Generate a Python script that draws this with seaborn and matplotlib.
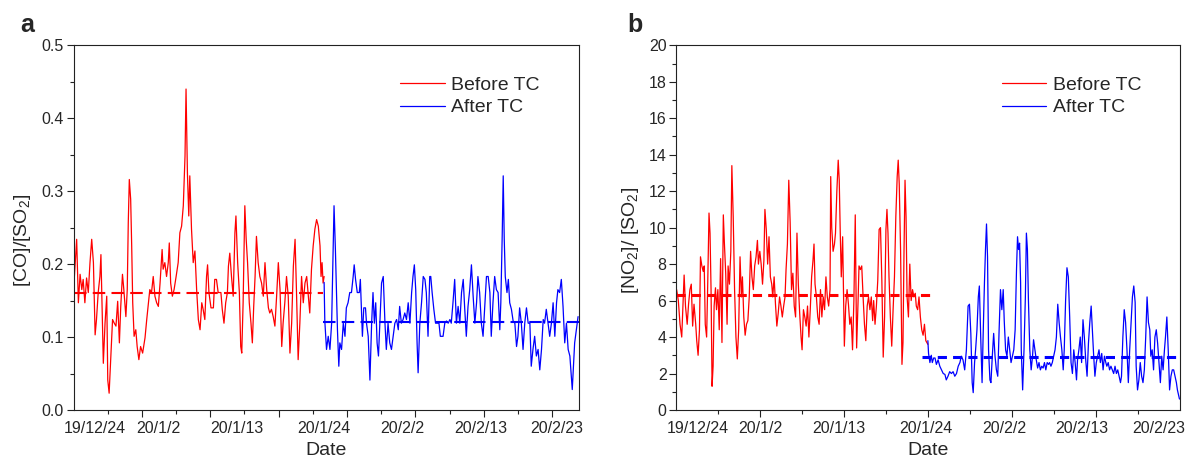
import matplotlib
matplotlib.use('Agg')
import matplotlib.pyplot as plt
import seaborn as sns
import pandas as pd
from matplotlib.ticker import FixedLocator, MultipleLocator

# time axis: hours since 19/12/24 00:00
# [CO]/[SO2] before the traffic control
co_before_hour = [0, 9, 14, 19, 24, 28, 33, 38, 43, 48,
                  53, 58, 63, 67, 72, 77, 80, 84, 87, 92,
                  97, 100, 104, 108, 114, 119, 124, 129, 134, 138,
                  143, 147, 153, 157, 160, 163, 167, 170, 173, 177,
                  182, 186, 191, 196, 202, 209, 214, 219, 223, 228,
                  233, 238, 243, 248, 253, 259, 262, 267, 272, 277,
                  280, 284, 289, 294, 300, 306, 311, 316, 321, 326,
                  329, 333, 337, 340, 345, 350, 355, 360, 365, 370,
                  375, 379, 384, 389, 392, 396, 402, 409, 413, 418,
                  423, 431, 435, 440, 445, 450, 453, 457, 462, 467,
                  472, 475, 480, 485, 489, 492, 496, 501, 505, 509,
                  514, 519, 523, 527, 531, 535, 540, 545, 550, 555,
                  560, 565, 570, 574, 579, 584, 589, 594, 599, 604,
                  609, 613, 618, 623, 628, 633, 638, 643, 648, 652,
                  657, 662, 667, 672, 677, 682, 687, 691, 696, 701,
                  706, 711, 716, 721, 724, 727, 730, 733]
co_before = [0.165, 0.234, 0.147, 0.186, 0.165, 0.179, 0.147, 0.181, 0.161, 0.202,
             0.234, 0.202, 0.103, 0.124, 0.161, 0.183, 0.213, 0.124, 0.064, 0.119,
             0.156, 0.041, 0.023, 0.064, 0.124, 0.119, 0.115, 0.149, 0.092, 0.142,
             0.186, 0.165, 0.128, 0.165, 0.257, 0.316, 0.289, 0.225, 0.147, 0.101,
             0.110, 0.087, 0.069, 0.087, 0.078, 0.099, 0.124, 0.147, 0.165, 0.161,
             0.183, 0.156, 0.147, 0.142, 0.174, 0.220, 0.193, 0.202, 0.183, 0.202,
             0.229, 0.174, 0.156, 0.165, 0.183, 0.202, 0.243, 0.252, 0.280, 0.348,
             0.440, 0.325, 0.266, 0.321, 0.248, 0.202, 0.218, 0.165, 0.124, 0.110,
             0.147, 0.138, 0.124, 0.183, 0.199, 0.161, 0.140, 0.140, 0.179, 0.179,
             0.161, 0.161, 0.138, 0.119, 0.147, 0.161, 0.197, 0.215, 0.183, 0.156,
             0.243, 0.266, 0.202, 0.161, 0.087, 0.078, 0.147, 0.280, 0.234, 0.202,
             0.147, 0.119, 0.092, 0.142, 0.183, 0.238, 0.202, 0.183, 0.174, 0.156,
             0.202, 0.165, 0.140, 0.133, 0.138, 0.128, 0.115, 0.156, 0.202, 0.165,
             0.087, 0.119, 0.147, 0.183, 0.156, 0.078, 0.119, 0.197, 0.234, 0.165,
             0.069, 0.119, 0.183, 0.147, 0.174, 0.183, 0.156, 0.133, 0.193, 0.225,
             0.248, 0.261, 0.252, 0.225, 0.183, 0.202, 0.174, 0.183]

# [CO]/[SO2] after the traffic control
co_after_hour = [733, 735, 740, 745, 750, 755, 759, 762, 766, 769,
                 772, 776, 779, 784, 789, 794, 798, 803, 808, 813,
                 818, 821, 825, 830, 836, 839, 842, 845, 849, 854,
                 857, 862, 867, 872, 876, 880, 884, 888, 892, 896,
                 901, 906, 911, 915, 920, 925, 930, 935, 940, 945,
                 950, 954, 959, 964, 969, 974, 979, 984, 989, 993,
                 997, 1001, 1005, 1008, 1013, 1018, 1023, 1028, 1032, 1037,
                 1042, 1045, 1049, 1054, 1059, 1064, 1069, 1073, 1081, 1086,
                 1091, 1096, 1101, 1105, 1110, 1115, 1120, 1125, 1130, 1135,
                 1140, 1144, 1149, 1154, 1159, 1164, 1169, 1174, 1179, 1183,
                 1188, 1193, 1198, 1203, 1208, 1213, 1218, 1222, 1227, 1232,
                 1237, 1242, 1247, 1250, 1254, 1257, 1260, 1263, 1268, 1272,
                 1276, 1281, 1286, 1291, 1296, 1300, 1305, 1310, 1315, 1320,
                 1325, 1330, 1335, 1339, 1344, 1349, 1354, 1359, 1364, 1369,
                 1374, 1378, 1383, 1388, 1393, 1398, 1403, 1408, 1413, 1417,
                 1422, 1427, 1432, 1437, 1442, 1447, 1452, 1459, 1466, 1476]
co_after = [0.175, 0.122, 0.083, 0.101, 0.083, 0.119, 0.211, 0.280, 0.220, 0.165,
            0.110, 0.060, 0.092, 0.083, 0.119, 0.101, 0.140, 0.147, 0.161, 0.161,
            0.183, 0.199, 0.179, 0.161, 0.161, 0.179, 0.142, 0.101, 0.140, 0.140,
            0.119, 0.101, 0.041, 0.119, 0.161, 0.119, 0.147, 0.092, 0.074, 0.119,
            0.174, 0.183, 0.119, 0.083, 0.119, 0.092, 0.083, 0.101, 0.119, 0.124,
            0.110, 0.142, 0.119, 0.124, 0.133, 0.124, 0.147, 0.119, 0.161, 0.183,
            0.199, 0.165, 0.092, 0.051, 0.119, 0.147, 0.183, 0.179, 0.161, 0.101,
            0.183, 0.183, 0.161, 0.138, 0.119, 0.119, 0.119, 0.101, 0.101, 0.119,
            0.122, 0.119, 0.124, 0.119, 0.147, 0.179, 0.119, 0.142, 0.119, 0.161,
            0.179, 0.142, 0.101, 0.142, 0.165, 0.199, 0.156, 0.119, 0.147, 0.183,
            0.161, 0.119, 0.101, 0.142, 0.183, 0.183, 0.161, 0.101, 0.147, 0.183,
            0.165, 0.161, 0.110, 0.147, 0.238, 0.321, 0.234, 0.183, 0.161, 0.179,
            0.147, 0.138, 0.122, 0.119, 0.087, 0.101, 0.140, 0.119, 0.083, 0.119,
            0.140, 0.119, 0.119, 0.060, 0.083, 0.101, 0.074, 0.083, 0.055, 0.083,
            0.124, 0.119, 0.138, 0.119, 0.101, 0.119, 0.147, 0.101, 0.147, 0.165,
            0.161, 0.179, 0.142, 0.092, 0.119, 0.083, 0.074, 0.028, 0.092, 0.128]

# [NO2]/[SO2] before the traffic control
no2_before_hour = [1, 6, 11, 16, 19, 23, 27, 32, 36, 40,
                   44, 48, 52, 57, 60, 64, 68, 71, 75, 79,
                   82, 85, 89, 92, 96, 99, 102, 105, 108, 111,
                   115, 118, 122, 126, 130, 134, 138, 141, 145, 149,
                   152, 156, 160, 163, 167, 171, 175, 179, 183, 187,
                   191, 194, 198, 202, 206, 210, 214, 218, 222, 226,
                   230, 234, 238, 241, 245, 249, 253, 257, 260, 264,
                   268, 272, 276, 280, 283, 287, 291, 295, 299, 303,
                   307, 311, 315, 319, 322, 326, 330, 334, 338, 342,
                   346, 350, 354, 358, 362, 366, 369, 373, 377, 381,
                   385, 389, 393, 397, 401, 404, 407, 411, 415, 419,
                   423, 427, 431, 435, 439, 443, 447, 451, 453, 456,
                   460, 464, 467, 471, 475, 478, 481, 484, 488, 491,
                   493, 497, 501, 505, 509, 513, 517, 521, 525, 529,
                   533, 536, 540, 544, 548, 552, 556, 560, 564, 568,
                   572, 576, 579, 583, 587, 591, 595, 599, 603, 607,
                   611, 615, 618, 621, 624, 628, 632, 636, 640, 644,
                   648, 651, 654, 658, 662, 665, 668, 671, 674, 677,
                   681, 685, 689, 693, 697, 701, 704, 708, 712, 716,
                   720, 724, 728, 732, 738]
no2_before = [6.6, 6.0, 4.7, 4.0, 5.5, 7.4, 5.7, 4.7, 5.8, 6.6,
              6.9, 4.6, 5.8, 4.7, 3.8, 3.0, 4.4, 8.4, 7.9, 7.6,
              7.9, 4.7, 4.0, 6.7, 10.8, 9.7, 6.6, 1.3, 2.4, 5.7,
              6.7, 5.5, 6.6, 4.4, 8.3, 3.7, 10.7, 9.2, 7.5, 4.7,
              7.9, 6.9, 8.7, 13.4, 10.6, 6.6, 4.0, 2.8, 4.4, 8.4,
              6.2, 7.3, 5.1, 4.1, 4.7, 4.9, 6.2, 8.7, 7.3, 6.6,
              7.9, 8.4, 9.3, 8.0, 8.7, 8.0, 6.9, 8.2, 11.0, 9.9,
              8.0, 9.5, 7.3, 6.9, 6.2, 7.3, 5.8, 4.6, 5.3, 6.2,
              5.7, 5.1, 5.7, 6.2, 7.7, 9.1, 12.6, 10.3, 6.6, 7.5,
              5.7, 5.1, 9.7, 6.9, 5.3, 4.0, 3.3, 5.5, 5.1, 4.6,
              5.7, 4.0, 5.5, 7.3, 8.2, 9.1, 6.9, 6.2, 5.1, 4.7,
              6.6, 5.1, 6.2, 5.5, 7.3, 6.2, 5.7, 6.6, 12.8, 10.0,
              8.7, 9.1, 9.7, 12.0, 13.7, 12.6, 9.7, 7.3, 9.5, 6.0,
              3.5, 5.7, 6.6, 5.8, 4.7, 5.1, 3.3, 6.0, 10.7, 3.4,
              5.8, 7.9, 7.7, 7.9, 6.2, 4.7, 3.8, 5.7, 6.2, 5.5,
              6.2, 4.9, 6.0, 4.7, 5.7, 7.1, 9.9, 10.0, 7.1, 2.9,
              5.1, 9.9, 11.0, 9.7, 7.3, 5.1, 3.5, 5.5, 7.3, 10.6,
              12.8, 13.7, 12.4, 8.7, 2.5, 3.7, 8.7, 12.6, 10.6, 6.2,
              5.1, 8.0, 6.0, 6.6, 6.2, 6.4, 5.7, 5.5, 6.2, 5.1,
              4.4, 4.1, 4.7, 3.8, 3.6]

# [NO2]/[SO2] after the traffic control
no2_after_hour = [738, 740, 744, 748, 751, 755, 759, 763, 768, 773,
                  778, 783, 788, 792, 797, 802, 807, 812, 817, 822,
                  827, 832, 836, 841, 846, 851, 856, 860, 864, 868,
                  871, 875, 878, 882, 886, 889, 893, 897, 900, 904,
                  907, 910, 913, 916, 920, 923, 927, 931, 935, 939,
                  943, 947, 951, 955, 959, 962, 966, 970, 974, 978,
                  982, 986, 990, 994, 998, 1001, 1004, 1007, 1010, 1012,
                  1016, 1020, 1024, 1027, 1030, 1033, 1037, 1041, 1045, 1048,
                  1052, 1056, 1060, 1064, 1068, 1072, 1076, 1080, 1084, 1088,
                  1092, 1095, 1099, 1103, 1107, 1111, 1115, 1119, 1123, 1127,
                  1131, 1135, 1138, 1142, 1146, 1150, 1154, 1158, 1162, 1166,
                  1170, 1174, 1177, 1181, 1185, 1189, 1193, 1197, 1201, 1205,
                  1209, 1213, 1217, 1220, 1224, 1228, 1232, 1236, 1240, 1244,
                  1248, 1252, 1256, 1260, 1263, 1267, 1271, 1275, 1279, 1283,
                  1287, 1291, 1295, 1299, 1303, 1306, 1310, 1314, 1318, 1322,
                  1326, 1330, 1334, 1338, 1342, 1346, 1349, 1353, 1357, 1361,
                  1365, 1369, 1373, 1377, 1381, 1385, 1389, 1392, 1396, 1400,
                  1404, 1408, 1412, 1416, 1420, 1424, 1428, 1432, 1435, 1439,
                  1443, 1447, 1451, 1455, 1459, 1463, 1467, 1470, 1476]
no2_after = [3.8, 3.1, 2.6, 3.0, 2.6, 2.85, 2.85, 2.5, 2.75, 2.4,
             2.2, 2.0, 1.95, 1.65, 1.85, 2.1, 2.0, 2.1, 1.85, 2.0,
             2.4, 2.6, 2.95, 2.75, 2.2, 3.3, 5.7, 5.8, 4.2, 1.5,
             0.95, 2.6, 3.3, 4.4, 6.2, 6.8, 4.0, 1.5, 4.0, 7.0,
             8.8, 10.2, 8.4, 3.3, 1.65, 1.5, 2.95, 4.2, 2.95, 2.2,
             1.85, 4.4, 6.6, 5.5, 6.6, 4.9, 3.3, 2.95, 4.0, 3.3,
             2.6, 2.95, 3.3, 4.4, 7.7, 9.5, 8.8, 9.15, 7.0, 3.3,
             1.1, 3.3, 6.2, 9.7, 8.8, 6.0, 3.3, 2.2, 2.95, 3.85,
             3.3, 2.75, 2.3, 2.6, 2.2, 2.4, 2.3, 2.6, 2.2, 2.6,
             2.5, 2.6, 2.4, 2.6, 2.95, 3.3, 4.0, 5.8, 4.8, 4.0,
             3.3, 2.2, 3.3, 6.0, 7.8, 7.3, 5.1, 2.6, 2.0, 3.3,
             2.6, 1.65, 2.75, 3.3, 4.0, 2.6, 4.95, 4.0, 2.75, 1.85,
             3.65, 4.8, 5.7, 4.6, 3.1, 1.85, 2.6, 2.95, 3.3, 2.6,
             3.1, 2.2, 2.95, 2.6, 2.4, 2.6, 2.2, 2.4, 2.2, 2.0,
             2.4, 2.0, 2.2, 1.85, 1.5, 1.85, 4.0, 5.5, 4.8, 3.3,
             1.5, 3.3, 4.8, 6.2, 6.8, 5.9, 2.4, 1.1, 1.65, 2.6,
             1.85, 1.5, 2.2, 4.0, 6.2, 4.8, 4.4, 2.95, 3.3, 2.2,
             4.0, 4.4, 3.65, 2.6, 1.5, 2.95, 2.2, 3.3, 4.0, 5.1,
             3.3, 1.1, 1.85, 2.2, 2.2, 1.85, 1.5, 1.1, 0.6]

# period means (dashed lines) and the hours they span
co_mean_before, co_mean_after = 0.16, 0.12
no2_mean_before, no2_mean_after = 6.3, 2.9
co_mean_span = [(0, 729), (729, 1478)]
no2_mean_span = [(0, 746), (721, 1478)]

date_labels = ['19/12/24', '20/1/2', '20/1/13', '20/1/24', '20/2/2', '20/2/13', '20/2/23']
date_label_hour = [62, 247, 477, 733, 963, 1190, 1415]
x_end = 1478

sns.set_style('ticks')
plt.rcParams['font.family'] = ['Liberation Sans', 'DejaVu Sans']
plt.rcParams['mathtext.fontset'] = 'custom'
plt.rcParams['mathtext.rm'] = 'Liberation Sans'
plt.rcParams['mathtext.it'] = 'Liberation Sans:italic'
plt.rcParams['axes.edgecolor'] = '#222222'
plt.rcParams['axes.linewidth'] = 0.8

palette = {'Before TC': '#ff0000', 'After TC': '#0000ff'}


def draw_panel(ax, hb, vb, ha, va, means, spans, ymax, ystep, ylabel, ylabel_x,
               major_x, minor_x, dash_lw, dashes):
    df = pd.concat([
        pd.DataFrame({'hour': hb, 'value': vb, 'period': 'Before TC'}),
        pd.DataFrame({'hour': ha, 'value': va, 'period': 'After TC'}),
    ])
    sns.lineplot(data=df, x='hour', y='value', hue='period', palette=palette,
                 estimator=None, sort=False, lw=0.9, ax=ax)
    handles, labels = ax.get_legend_handles_labels()

    for mean, (x0, x1), col in zip(means, spans, palette.values()):
        ax.plot([x0, x1], [mean, mean], color=col, lw=dash_lw,
                dashes=dashes, label='_nolegend_')

    ax.set_xlim(0, x_end)
    ax.set_ylim(0, ymax)
    ax.yaxis.set_major_locator(MultipleLocator(ystep))
    ax.yaxis.set_minor_locator(MultipleLocator(ystep / 2))
    ax.xaxis.set_major_locator(FixedLocator(major_x))
    ax.xaxis.set_minor_locator(FixedLocator(minor_x))
    ax.tick_params(which='major', direction='out', length=5, width=0.8,
                   labelsize=11.5, pad=2, color='#222222')
    ax.tick_params(which='minor', direction='out', length=3, width=0.8,
                   color='#222222')
    ax.tick_params(axis='x', labelbottom=False)
    ax.set_xlabel('')
    ax.set_ylabel(ylabel, fontsize=14)
    ax.yaxis.set_label_coords(ylabel_x, 0.465)
    for s in ax.spines.values():
        s.set_visible(True)

    ax.legend(handles, labels, loc='upper left', bbox_to_anchor=(0.646, 0.915),
              frameon=False, fontsize=14, borderpad=0, borderaxespad=0,
              handlelength=2.3, handletextpad=0.35, labelspacing=0.25)

    # date labels sit between the tick marks, as in the original
    sec = ax.secondary_xaxis('bottom')
    sec.set_xticks(date_label_hour, labels=date_labels)
    sec.tick_params(length=0, pad=8, labelsize=11.5)
    sec.spines['bottom'].set_visible(False)
    sec.set_xlabel('Date', fontsize=14, labelpad=4)


fig = plt.figure(figsize=(11.85, 4.62), dpi=100)
ax_a = fig.add_axes([0.0621, 0.1126, 0.4263, 0.7894])
ax_b = fig.add_axes([0.5707, 0.1126, 0.4252, 0.7894])

step_b = x_end / 12
draw_panel(ax_a, co_before_hour, co_before, co_after_hour, co_after,
           (co_mean_before, co_mean_after), co_mean_span, 0.5, 0.1,
           '[CO]/[SO$_2$]', -0.081,
           list(range(200, 1401, 200)), list(range(100, 1401, 200)),
           1.5, (6, 3))
draw_panel(ax_b, no2_before_hour, no2_before, no2_after_hour, no2_after,
           (no2_mean_before, no2_mean_after), no2_mean_span, 20, 2,
           '[NO$_2$]/ [SO$_2$]', -0.07,
           [step_b * k for k in range(2, 12, 2)],
           [step_b * k for k in range(1, 12, 2)],
           2.2, (3, 2))

fig.text(0.023, 0.946, 'a', fontsize=18, fontweight='bold', ha='center', va='center')
fig.text(0.536, 0.946, 'b', fontsize=18, fontweight='bold', ha='center', va='center')

fig.savefig('out.png', dpi=100)
